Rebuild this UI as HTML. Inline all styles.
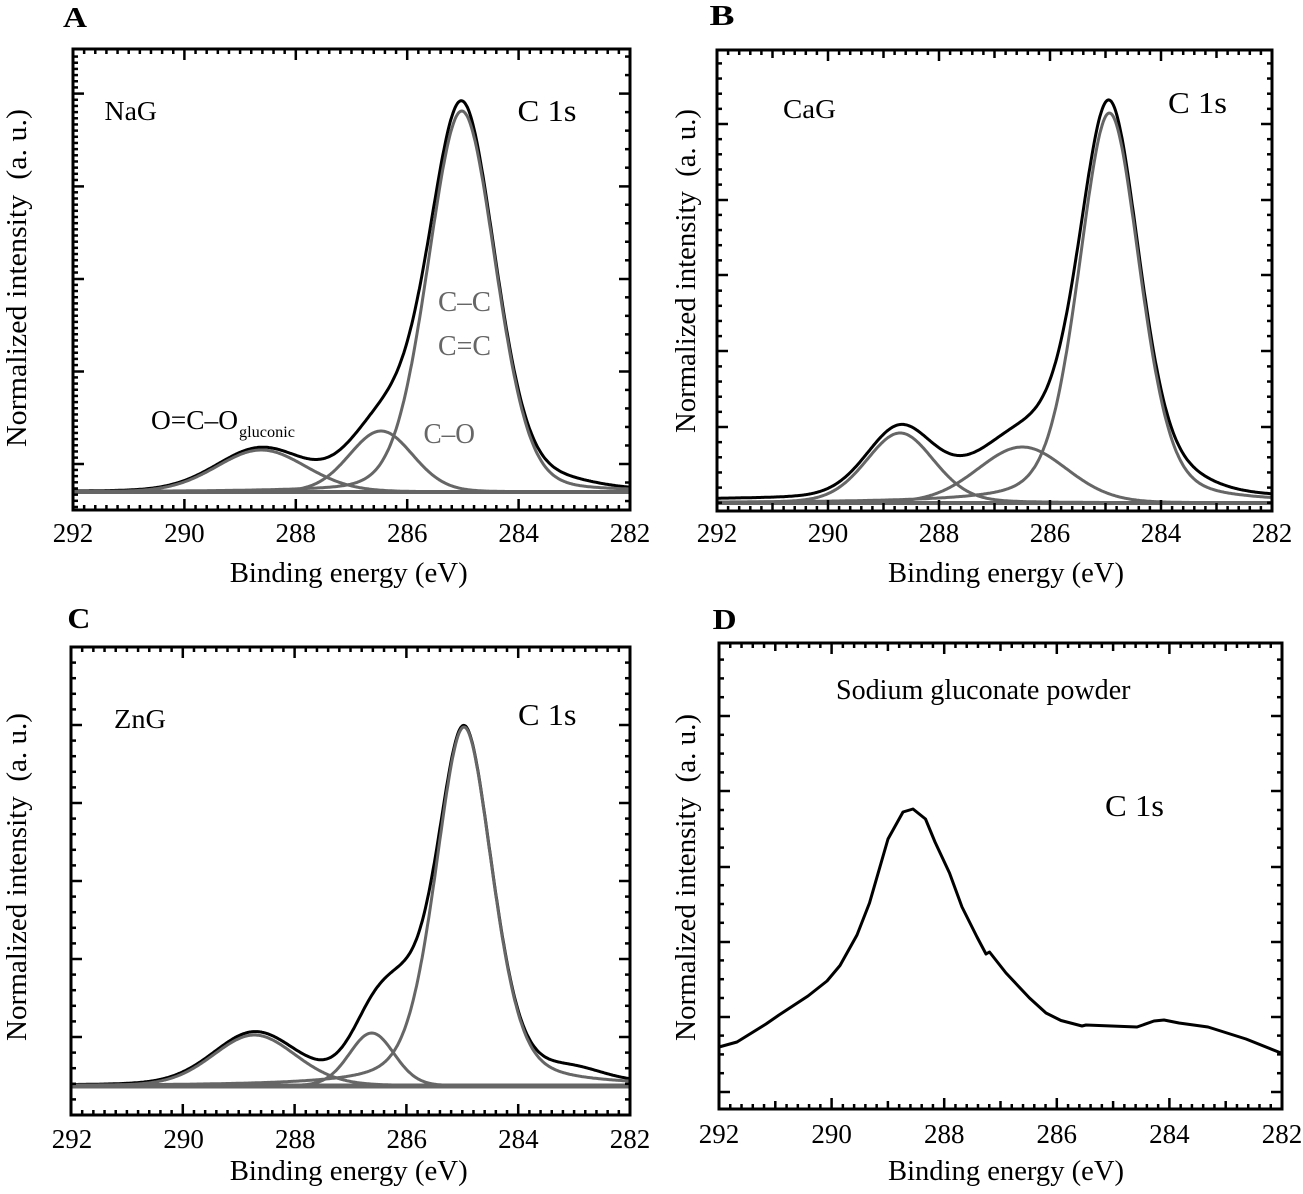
<!DOCTYPE html>
<html><head><meta charset="utf-8">
<style>
html,body{margin:0;padding:0;background:#fff;}
svg{display:block;}
text{font-family:"Liberation Serif","Times New Roman",serif;fill:#000;}
.g{fill:#666;}
.b{font-weight:bold;}
</style></head><body>
<svg id="s" xmlns="http://www.w3.org/2000/svg" width="1303" height="1194" viewBox="0 0 1303 1194">
<rect x="0" y="0" width="1303" height="1194" fill="#fff"/>
<g id="L"></g>
<g id="T">
<!-- Panel A -->
<text class="b" x="63" y="27" font-size="28" textLength="24" lengthAdjust="spacingAndGlyphs">A</text>
<text x="104.5" y="120" font-size="27.5" textLength="52.5" lengthAdjust="spacingAndGlyphs">NaG</text>
<text x="517.5" y="121" font-size="31" textLength="59" lengthAdjust="spacingAndGlyphs">C 1s</text>
<text class="g" x="438" y="311" font-size="28" textLength="53" lengthAdjust="spacingAndGlyphs">C–C</text>
<text class="g" x="438" y="355" font-size="28" textLength="53" lengthAdjust="spacingAndGlyphs">C=C</text>
<text class="g" x="423.5" y="443" font-size="28" textLength="51.5" lengthAdjust="spacingAndGlyphs">C–O</text>
<text x="151" y="429" font-size="27" textLength="87" lengthAdjust="spacingAndGlyphs">O=C–O</text>
<text x="239" y="437" font-size="16" textLength="56" lengthAdjust="spacingAndGlyphs">gluconic</text>
<g font-size="27" text-anchor="middle">
<text x="73" y="542">292</text><text x="184.4" y="542">290</text><text x="295.8" y="542">288</text><text x="407.2" y="542">286</text><text x="518.6" y="542">284</text><text x="630" y="542">282</text>
</g>
<text x="229.7" y="582" font-size="29" textLength="238" lengthAdjust="spacingAndGlyphs">Binding energy (eV)</text>
<text transform="translate(26,447) rotate(-90)" x="0" y="0" font-size="29" textLength="338" lengthAdjust="spacingAndGlyphs">Normalized intensity&#160; (a. u.)</text>

<!-- Panel B -->
<text class="b" x="709.5" y="25" font-size="28" textLength="25" lengthAdjust="spacingAndGlyphs">B</text>
<text x="783" y="118" font-size="27.5" textLength="53" lengthAdjust="spacingAndGlyphs">CaG</text>
<text x="1168" y="113" font-size="31" textLength="59" lengthAdjust="spacingAndGlyphs">C 1s</text>
<g font-size="27" text-anchor="middle">
<text x="717" y="542">292</text><text x="828" y="542">290</text><text x="939" y="542">288</text><text x="1050" y="542">286</text><text x="1161" y="542">284</text><text x="1272" y="542">282</text>
</g>
<text x="888" y="582" font-size="29" textLength="236" lengthAdjust="spacingAndGlyphs">Binding energy (eV)</text>
<text transform="translate(695,433) rotate(-90)" x="0" y="0" font-size="29" textLength="324" lengthAdjust="spacingAndGlyphs">Normalized intensity&#160; (a. u.)</text>

<!-- Panel C -->
<text class="b" x="67.4" y="628" font-size="28" textLength="23" lengthAdjust="spacingAndGlyphs">C</text>
<text x="114" y="728" font-size="27.5" textLength="52" lengthAdjust="spacingAndGlyphs">ZnG</text>
<text x="518" y="725" font-size="31" textLength="58.5" lengthAdjust="spacingAndGlyphs">C 1s</text>
<g font-size="27" text-anchor="middle">
<text x="72" y="1148">292</text><text x="183.6" y="1148">290</text><text x="295.2" y="1148">288</text><text x="406.8" y="1148">286</text><text x="518.4" y="1148">284</text><text x="630" y="1148">282</text>
</g>
<text x="229.7" y="1180" font-size="29" textLength="238" lengthAdjust="spacingAndGlyphs">Binding energy (eV)</text>
<text transform="translate(26,1041) rotate(-90)" x="0" y="0" font-size="29" textLength="328" lengthAdjust="spacingAndGlyphs">Normalized intensity&#160; (a. u.)</text>

<!-- Panel D -->
<text class="b" x="712.7" y="629" font-size="28" textLength="24" lengthAdjust="spacingAndGlyphs">D</text>
<text x="836" y="699" font-size="28" textLength="294.5" lengthAdjust="spacingAndGlyphs">Sodium gluconate powder</text>
<text x="1105" y="816" font-size="31" textLength="59" lengthAdjust="spacingAndGlyphs">C 1s</text>
<g font-size="27" text-anchor="middle">
<text x="719" y="1143">292</text><text x="831.6" y="1143">290</text><text x="944.2" y="1143">288</text><text x="1056.8" y="1143">286</text><text x="1169.4" y="1143">284</text><text x="1282" y="1143">282</text>
</g>
<text x="888" y="1180" font-size="29" textLength="236" lengthAdjust="spacingAndGlyphs">Binding energy (eV)</text>
<text transform="translate(695,1041) rotate(-90)" x="0" y="0" font-size="29" textLength="327" lengthAdjust="spacingAndGlyphs">Normalized intensity&#160; (a. u.)</text>
</g>
</svg>
<script>
(function(){
var NS='http://www.w3.org/2000/svg';
var layer=document.getElementById('L');
function mk(tag,a){var e=document.createElementNS(NS,tag);for(var k in a)e.setAttribute(k,a[k]);layer.appendChild(e);return e;}
function pv(x,c,w,m){var t=(x-c)/w;return m/(1+4*t*t)+(1-m)*Math.exp(-4*Math.LN2*t*t);}
var P=[
{x0:73,x1:630,y0:49,y1:510,base:492,bw:4,ym:[93.6,186.4,279,371.5,464],lm:6.17,rm:18.52,odd:false,
 c:[[288.62,42,1.9,0.1],[286.47,61,1.35,0.1],[285.02,381,1.42,0.15]],
 e:[[285.0,6,0.8,0],[283.3,8,1.6,0.3]],off:0},
{x0:717,x1:1272,y0:50,y1:511,base:503,bw:4,ym:[124,200,275,351,427],lm:15.15,rm:15.15,odd:true,
 c:[[288.7,70,1.45,0.2],[286.5,56,1.9,0.1],[284.93,390,1.3,0.3]],
 e:[[283.5,8,1.2,0.2]],off:3},
{x0:71,x1:630,y0:647,y1:1115,base:1086,bw:5,ym:[725,803,881,959,1037],lm:15.6,rm:15.6,odd:false,
 c:[[288.72,51,1.75,0.15],[286.62,53,0.95,0.1],[284.97,359,1.2,0.35]],
 e:[[286.1,50,0.9,0],[283.0,10,1.3,0.2]],off:0},
{x0:719,x1:1282,y0:643,y1:1109,ym:[716,791,867,942,1017,1092],lm:18.8,rm:18.8,odd:true}
];
var Dpts=[[719,1047],[737,1042],[766,1024],[779,1015],[808,996],[827,981],[840,965.5],[857,935],[869.5,903],[888,839],[903,812],[913,809],[925.5,819],[935,842],[949.5,873],[962,907],[977,937],[986,954],[989.5,952],[1006,973],[1029.5,998],[1046,1013],[1061,1020.5],[1082,1026],[1086,1025],[1137,1027],[1154,1021],[1164,1020],[1179,1023],[1208,1027],[1246,1039],[1281,1053]];
P.forEach(function(p){
 var X=function(v){return p.x0+(292-v)/10*(p.x1-p.x0);};
 if(p.c){
  var d='';
  for(var i=0;i<=500;i++){var v=292-i*0.02;var s=p.off;
   p.c.forEach(function(c){s+=c[1]*pv(v,c[0],c[2],c[3]);});
   p.e.forEach(function(c){s+=c[1]*pv(v,c[0],c[2],c[3]);});
   d+=(i?'L':'M')+X(v).toFixed(1)+' '+(p.base-s).toFixed(1);}
  mk('path',{d:d,fill:'none',stroke:'#000','stroke-width':3,'stroke-linejoin':'round'});
  mk('line',{x1:p.x0,y1:p.base,x2:p.x1,y2:p.base,stroke:'#666','stroke-width':p.bw});
  p.c.forEach(function(c){var d='';for(var i=0;i<=500;i++){var v=292-i*0.02;d+=(i?'L':'M')+X(v).toFixed(1)+' '+(p.base-c[1]*pv(v,c[0],c[2],c[3])).toFixed(1);}
   mk('path',{d:d,fill:'none',stroke:'#666','stroke-width':3,'stroke-linejoin':'round'});});
 } else {
  var d='';Dpts.forEach(function(q,i){d+=(i?'L':'M')+q[0]+' '+q[1];});
  mk('path',{d:d,fill:'none',stroke:'#000','stroke-width':3,'stroke-linejoin':'round'});
 }
 mk('rect',{x:p.x0,y:p.y0,width:p.x1-p.x0,height:p.y1-p.y0,fill:'none',stroke:'#000','stroke-width':3});
 for(var i=1;i<50;i++){var v=292-i*0.2;var x=X(v);var L=(i%10==0)?11:((p.odd&&i%5==0)?8:5);
  mk('line',{x1:x,y1:p.y1,x2:x,y2:p.y1-L,stroke:'#000','stroke-width':2.5});
  mk('line',{x1:x,y1:p.y0,x2:x,y2:p.y0+L,stroke:'#000','stroke-width':2.5});}
 function yt(step,side){
  var ys=[];
  p.ym.forEach(function(y){ys.push([y,11]);});
  var f=p.ym[0];
  for(var y=f-step;y>p.y0+3;y-=step)ys.push([y,5]);
  for(var y=f+step;y<p.y1-3;y+=step){var near=false;p.ym.forEach(function(m){if(Math.abs(m-y)<2)near=true;});if(!near)ys.push([y,5]);}
  ys.forEach(function(t){
   if(side<0)mk('line',{x1:p.x0,y1:t[0],x2:p.x0+t[1],y2:t[0],stroke:'#000','stroke-width':2.5});
   else mk('line',{x1:p.x1,y1:t[0],x2:p.x1-t[1],y2:t[0],stroke:'#000','stroke-width':2.5});
  });
 }
 yt(p.lm,-1);yt(p.rm,1);
});
})();
</script>
</body></html>
